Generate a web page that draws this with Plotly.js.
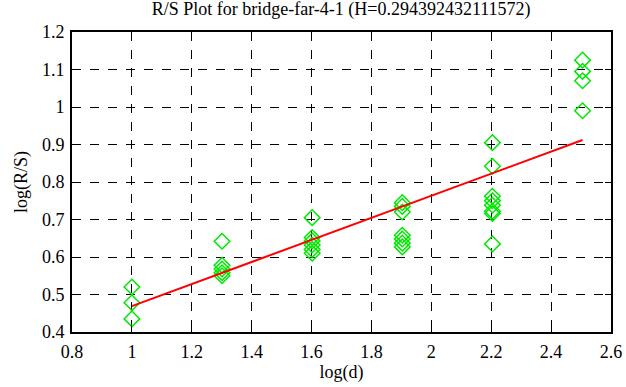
<!DOCTYPE html>
<html>
<head>
<meta charset="utf-8">
<script src="https://cdn.plot.ly/plotly-3.0.1.min.js"></script>
<style>html,body{margin:0;padding:0;background:#fff;}#chart{width:626px;height:387px;}</style>
</head>
<body>
<div id="chart"></div>
<script>
const logD = [1, 1, 1,
  1.301, 1.301, 1.301, 1.301, 1.301,
  1.602, 1.602, 1.602, 1.602, 1.602, 1.602,
  1.903, 1.903, 1.903, 1.903, 1.903, 1.903, 1.903,
  2.204, 2.204, 2.204, 2.204, 2.204, 2.204, 2.204, 2.204,
  2.505, 2.505, 2.505, 2.505];
const logRS = [0.52, 0.478, 0.435,
  0.642, 0.578, 0.568, 0.558, 0.55,
  0.705, 0.652, 0.643, 0.632, 0.62, 0.61,
  0.745, 0.735, 0.72, 0.658, 0.648, 0.637, 0.627,
  0.905, 0.842, 0.762, 0.75, 0.738, 0.722, 0.716, 0.635,
  1.125, 1.095, 1.07, 0.99];
const fitX = [1, 2.505];
const fitY = [0.469, 0.912];
const xTicks = [0.8, 1, 1.2, 1.4, 1.6, 1.8, 2, 2.2, 2.4, 2.6];
const yTicks = [0.4, 0.5, 0.6, 0.7, 0.8, 0.9, 1, 1.1, 1.2];

const font = {family: 'Liberation Serif', size: 18, color: '#000'};
const traces = [
  {x: logD, y: logRS, mode: 'markers', type: 'scatter',
   marker: {symbol: 'diamond-open', size: 12, color: '#00e800', line: {width: 1.5, color: '#00e800'}}},
  {x: fitX, y: fitY, mode: 'lines', type: 'scatter', line: {color: '#ff0000', width: 2}}
];
const axisCommon = {
  showline: true, linecolor: '#000', linewidth: 2, mirror: 'ticks',
  ticks: 'inside', ticklen: 6, tickcolor: '#000', tickwidth: 1,
  showgrid: true, gridcolor: '#000', gridwidth: 1, griddash: 'dash',
  zeroline: false, tickfont: font
};
const layout = {
  width: 626, height: 387,
  margin: {l: 72, r: 15, t: 32, b: 55},
  paper_bgcolor: '#fff', plot_bgcolor: '#fff',
  showlegend: false,
  font: font,
  title: {text: 'R/S Plot for bridge-far-4-1 (H=0.294392432111572)', font: font, x: 0.545, xanchor: 'center', y: 0.995, yanchor: 'top'},
  xaxis: Object.assign({}, axisCommon, {range: [0.8, 2.6], tickvals: xTicks, ticktext: xTicks.map(String), ticklabelstandoff: 2,
    title: {text: 'log(d)', font: font, standoff: 4}}),
  yaxis: Object.assign({}, axisCommon, {range: [0.4, 1.2], tickvals: yTicks, ticktext: yTicks.map(String), ticklabelstandoff: 2,
    title: {text: 'log(R/S)', font: font, standoff: 10}})
};
Plotly.newPlot('chart', traces, layout, {staticPlot: true, displayModeBar: false});
</script>
</body>
</html>
